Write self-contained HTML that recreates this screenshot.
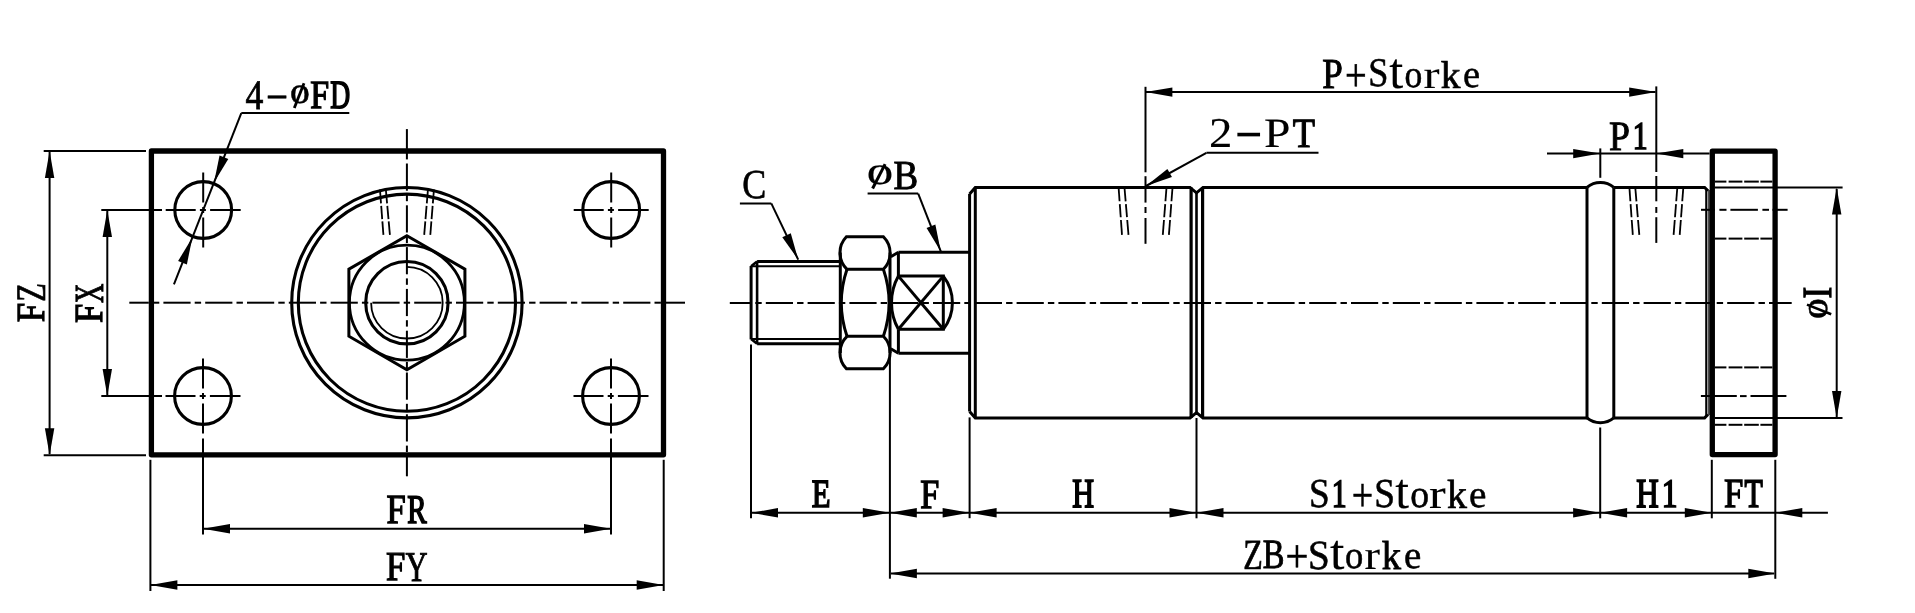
<!DOCTYPE html>
<html><head><meta charset="utf-8"><style>
html,body{margin:0;padding:0;background:#fff;overflow:hidden}
svg{display:block}
text{font-family:"Liberation Serif",serif;fill:#000;stroke:#000;stroke-linejoin:miter;text-rendering:geometricPrecision}
svg{filter:grayscale(1)}
</style></head><body>
<svg width="1915" height="613" viewBox="0 0 1915 613" stroke="#000" stroke-linecap="butt" stroke-linejoin="miter">
<rect x="0" y="0" width="1915" height="613" fill="#fff" stroke="none"/>
<rect x="151.4" y="151" width="512.1" height="303.8" fill="none" stroke-width="5.3" stroke-linejoin="round"/>
<line x1="129.30" y1="302.70" x2="148.80" y2="302.70" stroke-width="2.0"/>
<line x1="152.90" y1="302.70" x2="159.30" y2="302.70" stroke-width="2.0"/>
<line x1="163.40" y1="302.70" x2="190.60" y2="302.70" stroke-width="2.0"/>
<line x1="194.70" y1="302.70" x2="201.10" y2="302.70" stroke-width="2.0"/>
<line x1="205.20" y1="302.70" x2="232.40" y2="302.70" stroke-width="2.0"/>
<line x1="236.50" y1="302.70" x2="242.90" y2="302.70" stroke-width="2.0"/>
<line x1="247.00" y1="302.70" x2="274.20" y2="302.70" stroke-width="2.0"/>
<line x1="278.30" y1="302.70" x2="284.70" y2="302.70" stroke-width="2.0"/>
<line x1="288.80" y1="302.70" x2="316.00" y2="302.70" stroke-width="2.0"/>
<line x1="320.10" y1="302.70" x2="326.50" y2="302.70" stroke-width="2.0"/>
<line x1="330.60" y1="302.70" x2="357.80" y2="302.70" stroke-width="2.0"/>
<line x1="361.90" y1="302.70" x2="368.30" y2="302.70" stroke-width="2.0"/>
<line x1="372.40" y1="302.70" x2="399.60" y2="302.70" stroke-width="2.0"/>
<line x1="403.70" y1="302.70" x2="410.10" y2="302.70" stroke-width="2.0"/>
<line x1="414.20" y1="302.70" x2="441.40" y2="302.70" stroke-width="2.0"/>
<line x1="445.50" y1="302.70" x2="451.90" y2="302.70" stroke-width="2.0"/>
<line x1="456.00" y1="302.70" x2="483.20" y2="302.70" stroke-width="2.0"/>
<line x1="487.30" y1="302.70" x2="493.70" y2="302.70" stroke-width="2.0"/>
<line x1="497.80" y1="302.70" x2="525.00" y2="302.70" stroke-width="2.0"/>
<line x1="529.10" y1="302.70" x2="535.50" y2="302.70" stroke-width="2.0"/>
<line x1="539.60" y1="302.70" x2="566.80" y2="302.70" stroke-width="2.0"/>
<line x1="570.90" y1="302.70" x2="577.30" y2="302.70" stroke-width="2.0"/>
<line x1="581.40" y1="302.70" x2="608.60" y2="302.70" stroke-width="2.0"/>
<line x1="612.70" y1="302.70" x2="619.10" y2="302.70" stroke-width="2.0"/>
<line x1="623.20" y1="302.70" x2="650.40" y2="302.70" stroke-width="2.0"/>
<line x1="654.50" y1="302.70" x2="660.90" y2="302.70" stroke-width="2.0"/>
<line x1="665.00" y1="302.70" x2="685.00" y2="302.70" stroke-width="2.0"/>
<line x1="406.90" y1="129.10" x2="406.90" y2="148.90" stroke-width="2.0"/>
<line x1="406.90" y1="153.00" x2="406.90" y2="159.40" stroke-width="2.0"/>
<line x1="406.90" y1="163.50" x2="406.90" y2="190.70" stroke-width="2.0"/>
<line x1="406.90" y1="194.80" x2="406.90" y2="201.20" stroke-width="2.0"/>
<line x1="406.90" y1="205.30" x2="406.90" y2="232.50" stroke-width="2.0"/>
<line x1="406.90" y1="236.60" x2="406.90" y2="243.00" stroke-width="2.0"/>
<line x1="406.90" y1="247.10" x2="406.90" y2="274.30" stroke-width="2.0"/>
<line x1="406.90" y1="278.40" x2="406.90" y2="284.80" stroke-width="2.0"/>
<line x1="406.90" y1="288.90" x2="406.90" y2="316.10" stroke-width="2.0"/>
<line x1="406.90" y1="320.20" x2="406.90" y2="326.60" stroke-width="2.0"/>
<line x1="406.90" y1="330.70" x2="406.90" y2="357.90" stroke-width="2.0"/>
<line x1="406.90" y1="362.00" x2="406.90" y2="368.40" stroke-width="2.0"/>
<line x1="406.90" y1="372.50" x2="406.90" y2="399.70" stroke-width="2.0"/>
<line x1="406.90" y1="403.80" x2="406.90" y2="410.20" stroke-width="2.0"/>
<line x1="406.90" y1="414.30" x2="406.90" y2="441.50" stroke-width="2.0"/>
<line x1="406.90" y1="445.60" x2="406.90" y2="452.00" stroke-width="2.0"/>
<line x1="406.90" y1="456.10" x2="406.90" y2="476.30" stroke-width="2.0"/>
<circle cx="203.20" cy="210.00" r="28.40" fill="none" stroke-width="3.1"/>
<line x1="165.70" y1="210.00" x2="195.70" y2="210.00" stroke-width="2.0"/>
<line x1="199.90" y1="210.00" x2="205.90" y2="210.00" stroke-width="2.0"/>
<line x1="210.10" y1="210.00" x2="240.70" y2="210.00" stroke-width="2.0"/>
<line x1="203.20" y1="172.50" x2="203.20" y2="202.50" stroke-width="2.0"/>
<line x1="203.20" y1="207.00" x2="203.20" y2="213.00" stroke-width="2.0"/>
<line x1="203.20" y1="217.50" x2="203.20" y2="247.50" stroke-width="2.0"/>
<circle cx="611.20" cy="210.00" r="28.40" fill="none" stroke-width="3.1"/>
<line x1="573.70" y1="210.00" x2="603.70" y2="210.00" stroke-width="2.0"/>
<line x1="607.90" y1="210.00" x2="613.90" y2="210.00" stroke-width="2.0"/>
<line x1="618.10" y1="210.00" x2="648.70" y2="210.00" stroke-width="2.0"/>
<line x1="611.20" y1="172.50" x2="611.20" y2="202.50" stroke-width="2.0"/>
<line x1="611.20" y1="207.00" x2="611.20" y2="213.00" stroke-width="2.0"/>
<line x1="611.20" y1="217.50" x2="611.20" y2="247.50" stroke-width="2.0"/>
<circle cx="203.00" cy="396.00" r="28.40" fill="none" stroke-width="3.1"/>
<line x1="165.50" y1="396.00" x2="195.50" y2="396.00" stroke-width="2.0"/>
<line x1="199.70" y1="396.00" x2="205.70" y2="396.00" stroke-width="2.0"/>
<line x1="209.90" y1="396.00" x2="240.50" y2="396.00" stroke-width="2.0"/>
<line x1="203.00" y1="358.50" x2="203.00" y2="388.50" stroke-width="2.0"/>
<line x1="203.00" y1="393.00" x2="203.00" y2="399.00" stroke-width="2.0"/>
<line x1="203.00" y1="403.50" x2="203.00" y2="433.50" stroke-width="2.0"/>
<circle cx="611.00" cy="396.00" r="28.40" fill="none" stroke-width="3.1"/>
<line x1="573.50" y1="396.00" x2="603.50" y2="396.00" stroke-width="2.0"/>
<line x1="607.70" y1="396.00" x2="613.70" y2="396.00" stroke-width="2.0"/>
<line x1="617.90" y1="396.00" x2="648.50" y2="396.00" stroke-width="2.0"/>
<line x1="611.00" y1="358.50" x2="611.00" y2="388.50" stroke-width="2.0"/>
<line x1="611.00" y1="393.00" x2="611.00" y2="399.00" stroke-width="2.0"/>
<line x1="611.00" y1="403.50" x2="611.00" y2="433.50" stroke-width="2.0"/>
<line x1="101.30" y1="210.00" x2="162.00" y2="210.00" stroke-width="2.0"/>
<line x1="101.30" y1="396.00" x2="162.00" y2="396.00" stroke-width="2.0"/>
<line x1="203.00" y1="438.50" x2="203.00" y2="534.50" stroke-width="2.0"/>
<line x1="611.00" y1="438.50" x2="611.00" y2="534.50" stroke-width="2.0"/>
<line x1="150.40" y1="459.80" x2="150.40" y2="591.00" stroke-width="2.0"/>
<line x1="663.70" y1="459.80" x2="663.70" y2="591.00" stroke-width="2.0"/>
<line x1="43.70" y1="150.90" x2="146.00" y2="150.90" stroke-width="2.0"/>
<line x1="43.70" y1="455.20" x2="146.00" y2="455.20" stroke-width="2.0"/>
<line x1="49.60" y1="152.00" x2="49.60" y2="454.00" stroke-width="2.0"/>
<polygon points="49.60,150.90 54.30,177.90 44.90,177.90" fill="#000" stroke="none"/>
<polygon points="49.60,455.20 44.90,428.20 54.30,428.20" fill="#000" stroke="none"/>
<line x1="107.30" y1="211.00" x2="107.30" y2="395.00" stroke-width="2.0"/>
<polygon points="107.30,210.00 112.00,237.00 102.60,237.00" fill="#000" stroke="none"/>
<polygon points="107.30,396.00 102.60,369.00 112.00,369.00" fill="#000" stroke="none"/>
<line x1="204.00" y1="528.80" x2="610.00" y2="528.80" stroke-width="2.0"/>
<polygon points="203.00,528.80 230.00,524.10 230.00,533.50" fill="#000" stroke="none"/>
<polygon points="611.00,528.80 584.00,533.50 584.00,524.10" fill="#000" stroke="none"/>
<line x1="151.00" y1="585.00" x2="663.00" y2="585.00" stroke-width="2.0"/>
<polygon points="150.40,585.00 177.40,580.30 177.40,589.70" fill="#000" stroke="none"/>
<polygon points="663.70,585.00 636.70,589.70 636.70,580.30" fill="#000" stroke="none"/>
<circle cx="406.90" cy="302.70" r="115.20" fill="none" stroke-width="3.1"/>
<circle cx="406.90" cy="302.70" r="108.60" fill="none" stroke-width="3.1"/>
<polygon points="406.90,235.70 464.92,269.20 464.92,336.20 406.90,369.70 348.88,336.20 348.88,269.20" fill="none" stroke-width="3.0"/>
<circle cx="406.90" cy="302.70" r="57.50" fill="none" stroke-width="2.8"/>
<circle cx="406.90" cy="302.70" r="41.20" fill="none" stroke-width="3.1"/>
<path d="M406.9,266.90 A35.8,35.8 0 1 1 371.10,302.70" fill="none" stroke-width="1.8"/>
<line x1="379.96" y1="189.50" x2="381.02" y2="203.40" stroke-width="1.8"/>
<line x1="381.21" y1="205.90" x2="382.20" y2="219.10" stroke-width="1.8"/>
<line x1="382.38" y1="221.40" x2="383.40" y2="234.90" stroke-width="1.8"/>
<line x1="385.84" y1="189.50" x2="387.08" y2="203.40" stroke-width="1.8"/>
<line x1="387.31" y1="205.90" x2="388.49" y2="219.10" stroke-width="1.8"/>
<line x1="388.69" y1="221.40" x2="389.90" y2="234.90" stroke-width="1.8"/>
<line x1="427.95" y1="189.50" x2="426.80" y2="203.40" stroke-width="1.8"/>
<line x1="426.59" y1="205.90" x2="425.50" y2="219.10" stroke-width="1.8"/>
<line x1="425.31" y1="221.40" x2="424.20" y2="234.90" stroke-width="1.8"/>
<line x1="433.94" y1="189.50" x2="432.83" y2="203.40" stroke-width="1.8"/>
<line x1="432.63" y1="205.90" x2="431.57" y2="219.10" stroke-width="1.8"/>
<line x1="431.38" y1="221.40" x2="430.30" y2="234.90" stroke-width="1.8"/>
<line x1="241.30" y1="113.10" x2="349.30" y2="113.10" stroke-width="2.0"/>
<line x1="241.30" y1="113.10" x2="173.93" y2="284.45" stroke-width="2.0"/>
<polygon points="214.03,182.45 219.54,155.61 228.29,159.05" fill="#000" stroke="none"/>
<polygon points="192.37,237.55 186.86,264.39 178.11,260.95" fill="#000" stroke="none"/>
<line x1="729.80" y1="303.00" x2="751.20" y2="303.00" stroke-width="2.0"/>
<line x1="755.30" y1="303.00" x2="761.70" y2="303.00" stroke-width="2.0"/>
<line x1="765.80" y1="303.00" x2="793.00" y2="303.00" stroke-width="2.0"/>
<line x1="797.10" y1="303.00" x2="803.50" y2="303.00" stroke-width="2.0"/>
<line x1="807.60" y1="303.00" x2="834.80" y2="303.00" stroke-width="2.0"/>
<line x1="838.90" y1="303.00" x2="845.30" y2="303.00" stroke-width="2.0"/>
<line x1="849.40" y1="303.00" x2="876.60" y2="303.00" stroke-width="2.0"/>
<line x1="880.70" y1="303.00" x2="887.10" y2="303.00" stroke-width="2.0"/>
<line x1="891.20" y1="303.00" x2="918.40" y2="303.00" stroke-width="2.0"/>
<line x1="922.50" y1="303.00" x2="928.90" y2="303.00" stroke-width="2.0"/>
<line x1="933.00" y1="303.00" x2="960.20" y2="303.00" stroke-width="2.0"/>
<line x1="964.30" y1="303.00" x2="970.70" y2="303.00" stroke-width="2.0"/>
<line x1="974.80" y1="303.00" x2="1002.00" y2="303.00" stroke-width="2.0"/>
<line x1="1006.10" y1="303.00" x2="1012.50" y2="303.00" stroke-width="2.0"/>
<line x1="1016.60" y1="303.00" x2="1043.80" y2="303.00" stroke-width="2.0"/>
<line x1="1047.90" y1="303.00" x2="1054.30" y2="303.00" stroke-width="2.0"/>
<line x1="1058.40" y1="303.00" x2="1085.60" y2="303.00" stroke-width="2.0"/>
<line x1="1089.70" y1="303.00" x2="1096.10" y2="303.00" stroke-width="2.0"/>
<line x1="1100.20" y1="303.00" x2="1127.40" y2="303.00" stroke-width="2.0"/>
<line x1="1131.50" y1="303.00" x2="1137.90" y2="303.00" stroke-width="2.0"/>
<line x1="1142.00" y1="303.00" x2="1169.20" y2="303.00" stroke-width="2.0"/>
<line x1="1173.30" y1="303.00" x2="1179.70" y2="303.00" stroke-width="2.0"/>
<line x1="1183.80" y1="303.00" x2="1211.00" y2="303.00" stroke-width="2.0"/>
<line x1="1215.10" y1="303.00" x2="1221.50" y2="303.00" stroke-width="2.0"/>
<line x1="1225.60" y1="303.00" x2="1252.80" y2="303.00" stroke-width="2.0"/>
<line x1="1256.90" y1="303.00" x2="1263.30" y2="303.00" stroke-width="2.0"/>
<line x1="1267.40" y1="303.00" x2="1294.60" y2="303.00" stroke-width="2.0"/>
<line x1="1298.70" y1="303.00" x2="1305.10" y2="303.00" stroke-width="2.0"/>
<line x1="1309.20" y1="303.00" x2="1336.40" y2="303.00" stroke-width="2.0"/>
<line x1="1340.50" y1="303.00" x2="1346.90" y2="303.00" stroke-width="2.0"/>
<line x1="1351.00" y1="303.00" x2="1378.20" y2="303.00" stroke-width="2.0"/>
<line x1="1382.30" y1="303.00" x2="1388.70" y2="303.00" stroke-width="2.0"/>
<line x1="1392.80" y1="303.00" x2="1420.00" y2="303.00" stroke-width="2.0"/>
<line x1="1424.10" y1="303.00" x2="1430.50" y2="303.00" stroke-width="2.0"/>
<line x1="1434.60" y1="303.00" x2="1461.80" y2="303.00" stroke-width="2.0"/>
<line x1="1465.90" y1="303.00" x2="1472.30" y2="303.00" stroke-width="2.0"/>
<line x1="1476.40" y1="303.00" x2="1503.60" y2="303.00" stroke-width="2.0"/>
<line x1="1507.70" y1="303.00" x2="1514.10" y2="303.00" stroke-width="2.0"/>
<line x1="1518.20" y1="303.00" x2="1545.40" y2="303.00" stroke-width="2.0"/>
<line x1="1549.50" y1="303.00" x2="1555.90" y2="303.00" stroke-width="2.0"/>
<line x1="1560.00" y1="303.00" x2="1587.20" y2="303.00" stroke-width="2.0"/>
<line x1="1591.30" y1="303.00" x2="1597.70" y2="303.00" stroke-width="2.0"/>
<line x1="1601.80" y1="303.00" x2="1629.00" y2="303.00" stroke-width="2.0"/>
<line x1="1633.10" y1="303.00" x2="1639.50" y2="303.00" stroke-width="2.0"/>
<line x1="1643.60" y1="303.00" x2="1670.80" y2="303.00" stroke-width="2.0"/>
<line x1="1674.90" y1="303.00" x2="1681.30" y2="303.00" stroke-width="2.0"/>
<line x1="1685.40" y1="303.00" x2="1712.60" y2="303.00" stroke-width="2.0"/>
<line x1="1716.70" y1="303.00" x2="1723.10" y2="303.00" stroke-width="2.0"/>
<line x1="1727.20" y1="303.00" x2="1754.40" y2="303.00" stroke-width="2.0"/>
<line x1="1758.50" y1="303.00" x2="1764.90" y2="303.00" stroke-width="2.0"/>
<line x1="1769.00" y1="303.00" x2="1791.70" y2="303.00" stroke-width="2.0"/>
<line x1="757.10" y1="261.60" x2="840.00" y2="261.60" stroke-width="3.0"/>
<line x1="757.10" y1="343.80" x2="840.00" y2="343.80" stroke-width="3.0"/>
<line x1="751.10" y1="266.30" x2="840.00" y2="266.30" stroke-width="2.0"/>
<line x1="751.10" y1="339.10" x2="840.00" y2="339.10" stroke-width="2.0"/>
<line x1="751.10" y1="266.00" x2="751.10" y2="339.40" stroke-width="3.0"/>
<line x1="757.10" y1="261.60" x2="757.10" y2="343.80" stroke-width="2.6"/>
<line x1="751.10" y1="266.30" x2="757.10" y2="261.60" stroke-width="2.6"/>
<line x1="751.10" y1="339.10" x2="757.10" y2="343.80" stroke-width="2.6"/>
<path d="M846.4,236.8 L883.4,236.8 A23,23 0 0 1 883.4,269.3 L847,269.3 A23,23 0 0 1 846.4,236.8 Z" fill="none" stroke-width="3.0"/>
<path d="M846.4,368.8 L883.4,368.8 A23,23 0 0 0 883.4,336.3 L847,336.3 A23,23 0 0 0 846.4,368.8 Z" fill="none" stroke-width="3.0"/>
<path d="M847,269.3 A104,104 0 0 0 847,336.3" fill="none" stroke-width="3.0"/>
<path d="M883.4,269.3 A104,104 0 0 1 883.4,336.3" fill="none" stroke-width="3.0"/>
<line x1="840.30" y1="252.50" x2="840.30" y2="353.00" stroke-width="3.0"/>
<line x1="890.00" y1="252.50" x2="890.00" y2="353.00" stroke-width="3.0"/>
<line x1="898.40" y1="252.20" x2="969.60" y2="252.20" stroke-width="3.0"/>
<line x1="898.40" y1="353.20" x2="969.60" y2="353.20" stroke-width="3.0"/>
<line x1="890.80" y1="256.70" x2="898.40" y2="252.20" stroke-width="3.0"/>
<line x1="890.80" y1="348.70" x2="898.40" y2="353.20" stroke-width="3.0"/>
<line x1="898.40" y1="252.20" x2="898.40" y2="276.10" stroke-width="3.0"/>
<line x1="898.40" y1="329.30" x2="898.40" y2="353.20" stroke-width="3.0"/>
<polyline points="898.40,276.10 943.30,276.10 943.30,329.30 898.40,329.30" fill="none" stroke-width="3.0"/>
<line x1="898.40" y1="276.10" x2="943.30" y2="329.30" stroke-width="3.0"/>
<line x1="898.40" y1="329.30" x2="943.30" y2="276.10" stroke-width="3.0"/>
<path d="M943.3,276.1 A43.4,43.4 0 0 1 943.3,329.3" fill="none" stroke-width="3.0"/>
<path d="M898.4,276.1 A54.7,54.7 0 0 0 898.4,329.3" fill="none" stroke-width="3.0"/>
<polyline points="969.60,193.90 969.60,411.50" fill="none" stroke-width="3.0"/>
<polyline points="969.60,193.90 975.30,187.40 1190.00,187.40 1196.50,192.80 1203.00,187.40 1587.00,187.40" fill="none" stroke-width="3.0"/>
<polyline points="969.60,411.50 975.30,417.90 1190.00,417.90 1196.50,412.60 1203.00,417.90 1587.00,417.90" fill="none" stroke-width="3.0"/>
<line x1="975.30" y1="187.40" x2="975.30" y2="417.90" stroke-width="3.0"/>
<line x1="1191.10" y1="187.40" x2="1191.10" y2="417.90" stroke-width="3.2"/>
<line x1="1202.60" y1="187.40" x2="1202.60" y2="417.90" stroke-width="3.2"/>
<line x1="1196.50" y1="192.80" x2="1196.50" y2="412.60" stroke-width="2.6"/>
<line x1="1587.00" y1="187.40" x2="1587.00" y2="417.90" stroke-width="3.0"/>
<line x1="1613.80" y1="187.40" x2="1613.80" y2="417.90" stroke-width="3.0"/>
<path d="M1587,187.4 A21,21 0 0 1 1613.8,187.4" fill="none" stroke-width="3.0"/>
<path d="M1587,417.9 A21,21 0 0 0 1613.8,417.9" fill="none" stroke-width="3.0"/>
<polyline points="1613.80,187.40 1704.60,187.40 1708.00,190.80" fill="none" stroke-width="3.0"/>
<polyline points="1613.80,417.90 1704.60,417.90 1708.00,414.50" fill="none" stroke-width="3.0"/>
<line x1="1706.30" y1="189.50" x2="1706.30" y2="416.00" stroke-width="2.2"/>
<line x1="1709.00" y1="190.00" x2="1709.00" y2="415.00" stroke-width="1.4"/>
<line x1="1118.70" y1="189.00" x2="1119.58" y2="201.30" stroke-width="1.8"/>
<line x1="1119.79" y1="204.10" x2="1120.73" y2="217.20" stroke-width="1.8"/>
<line x1="1120.93" y1="220.00" x2="1122.00" y2="234.90" stroke-width="1.8"/>
<line x1="1124.60" y1="189.00" x2="1125.65" y2="201.30" stroke-width="1.8"/>
<line x1="1125.88" y1="204.10" x2="1127.00" y2="217.20" stroke-width="1.8"/>
<line x1="1127.23" y1="220.00" x2="1128.50" y2="234.90" stroke-width="1.8"/>
<line x1="1166.40" y1="189.00" x2="1165.44" y2="201.30" stroke-width="1.8"/>
<line x1="1165.22" y1="204.10" x2="1164.19" y2="217.20" stroke-width="1.8"/>
<line x1="1163.97" y1="220.00" x2="1162.80" y2="234.90" stroke-width="1.8"/>
<line x1="1172.40" y1="189.00" x2="1171.46" y2="201.30" stroke-width="1.8"/>
<line x1="1171.25" y1="204.10" x2="1170.25" y2="217.20" stroke-width="1.8"/>
<line x1="1170.04" y1="220.00" x2="1168.90" y2="234.90" stroke-width="1.8"/>
<line x1="1629.50" y1="189.00" x2="1630.38" y2="201.30" stroke-width="1.8"/>
<line x1="1630.59" y1="204.10" x2="1631.53" y2="217.20" stroke-width="1.8"/>
<line x1="1631.73" y1="220.00" x2="1632.80" y2="234.90" stroke-width="1.8"/>
<line x1="1635.40" y1="189.00" x2="1636.45" y2="201.30" stroke-width="1.8"/>
<line x1="1636.68" y1="204.10" x2="1637.80" y2="217.20" stroke-width="1.8"/>
<line x1="1638.03" y1="220.00" x2="1639.30" y2="234.90" stroke-width="1.8"/>
<line x1="1677.20" y1="189.00" x2="1676.24" y2="201.30" stroke-width="1.8"/>
<line x1="1676.02" y1="204.10" x2="1674.99" y2="217.20" stroke-width="1.8"/>
<line x1="1674.77" y1="220.00" x2="1673.60" y2="234.90" stroke-width="1.8"/>
<line x1="1683.20" y1="189.00" x2="1682.26" y2="201.30" stroke-width="1.8"/>
<line x1="1682.05" y1="204.10" x2="1681.05" y2="217.20" stroke-width="1.8"/>
<line x1="1680.84" y1="220.00" x2="1679.70" y2="234.90" stroke-width="1.8"/>
<rect x="1712.3" y="151.1" width="62.8" height="303.5" fill="none" stroke-width="5.3" stroke-linejoin="round"/>
<line x1="1715.00" y1="181.60" x2="1726.40" y2="181.60" stroke-width="2.0"/>
<line x1="1728.60" y1="181.60" x2="1742.40" y2="181.60" stroke-width="2.0"/>
<line x1="1744.20" y1="181.60" x2="1758.80" y2="181.60" stroke-width="2.0"/>
<line x1="1760.40" y1="181.60" x2="1772.40" y2="181.60" stroke-width="2.0"/>
<line x1="1715.00" y1="238.60" x2="1726.40" y2="238.60" stroke-width="2.0"/>
<line x1="1728.60" y1="238.60" x2="1742.40" y2="238.60" stroke-width="2.0"/>
<line x1="1744.20" y1="238.60" x2="1758.80" y2="238.60" stroke-width="2.0"/>
<line x1="1760.40" y1="238.60" x2="1772.40" y2="238.60" stroke-width="2.0"/>
<line x1="1715.00" y1="367.40" x2="1726.40" y2="367.40" stroke-width="2.0"/>
<line x1="1728.60" y1="367.40" x2="1742.40" y2="367.40" stroke-width="2.0"/>
<line x1="1744.20" y1="367.40" x2="1758.80" y2="367.40" stroke-width="2.0"/>
<line x1="1760.40" y1="367.40" x2="1772.40" y2="367.40" stroke-width="2.0"/>
<line x1="1715.00" y1="424.80" x2="1726.40" y2="424.80" stroke-width="2.0"/>
<line x1="1728.60" y1="424.80" x2="1742.40" y2="424.80" stroke-width="2.0"/>
<line x1="1744.20" y1="424.80" x2="1758.80" y2="424.80" stroke-width="2.0"/>
<line x1="1760.40" y1="424.80" x2="1772.40" y2="424.80" stroke-width="2.0"/>
<line x1="1701.00" y1="209.80" x2="1714.80" y2="209.80" stroke-width="2.0"/>
<line x1="1719.40" y1="209.80" x2="1726.50" y2="209.80" stroke-width="2.0"/>
<line x1="1730.40" y1="209.80" x2="1757.90" y2="209.80" stroke-width="2.0"/>
<line x1="1762.40" y1="209.80" x2="1769.00" y2="209.80" stroke-width="2.0"/>
<line x1="1772.50" y1="209.80" x2="1787.60" y2="209.80" stroke-width="2.0"/>
<line x1="1700.90" y1="396.10" x2="1736.80" y2="396.10" stroke-width="2.0"/>
<line x1="1740.00" y1="396.10" x2="1746.60" y2="396.10" stroke-width="2.0"/>
<line x1="1750.50" y1="396.10" x2="1786.40" y2="396.10" stroke-width="2.0"/>
<line x1="1714.80" y1="187.60" x2="1842.60" y2="187.60" stroke-width="2.0"/>
<line x1="1714.80" y1="418.00" x2="1842.50" y2="418.00" stroke-width="2.0"/>
<line x1="1836.70" y1="189.00" x2="1836.70" y2="417.00" stroke-width="2.0"/>
<polygon points="1836.70,187.60 1841.40,214.60 1832.00,214.60" fill="#000" stroke="none"/>
<polygon points="1836.70,418.00 1832.00,391.00 1841.40,391.00" fill="#000" stroke="none"/>
<line x1="751.00" y1="512.80" x2="1827.90" y2="512.80" stroke-width="2.0"/>
<polygon points="751.00,512.80 778.00,508.10 778.00,517.50" fill="#000" stroke="none"/>
<polygon points="889.80,512.80 862.80,517.50 862.80,508.10" fill="#000" stroke="none"/>
<polygon points="889.80,512.80 916.80,508.10 916.80,517.50" fill="#000" stroke="none"/>
<polygon points="969.60,512.80 942.60,517.50 942.60,508.10" fill="#000" stroke="none"/>
<polygon points="969.60,512.80 996.60,508.10 996.60,517.50" fill="#000" stroke="none"/>
<polygon points="1196.50,512.80 1169.50,517.50 1169.50,508.10" fill="#000" stroke="none"/>
<polygon points="1196.50,512.80 1223.50,508.10 1223.50,517.50" fill="#000" stroke="none"/>
<polygon points="1600.10,512.80 1573.10,517.50 1573.10,508.10" fill="#000" stroke="none"/>
<polygon points="1600.10,512.80 1627.10,508.10 1627.10,517.50" fill="#000" stroke="none"/>
<polygon points="1711.80,512.80 1684.80,517.50 1684.80,508.10" fill="#000" stroke="none"/>
<polygon points="1775.30,512.80 1802.30,508.10 1802.30,517.50" fill="#000" stroke="none"/>
<line x1="751.00" y1="344.50" x2="751.00" y2="518.20" stroke-width="2.0"/>
<line x1="889.90" y1="353.00" x2="889.90" y2="578.70" stroke-width="2.0"/>
<line x1="969.60" y1="417.40" x2="969.60" y2="518.20" stroke-width="2.0"/>
<line x1="1196.50" y1="418.00" x2="1196.50" y2="518.30" stroke-width="2.0"/>
<line x1="1600.20" y1="427.50" x2="1600.20" y2="518.30" stroke-width="2.0"/>
<line x1="1711.80" y1="459.80" x2="1711.80" y2="518.30" stroke-width="2.0"/>
<line x1="1775.30" y1="459.80" x2="1775.30" y2="578.80" stroke-width="2.0"/>
<line x1="891.00" y1="573.50" x2="1774.00" y2="573.50" stroke-width="2.0"/>
<polygon points="889.90,573.50 916.90,568.80 916.90,578.20" fill="#000" stroke="none"/>
<polygon points="1775.30,573.50 1748.30,578.20 1748.30,568.80" fill="#000" stroke="none"/>
<line x1="1146.00" y1="92.10" x2="1655.50" y2="92.10" stroke-width="2.0"/>
<polygon points="1145.40,92.10 1172.40,87.40 1172.40,96.80" fill="#000" stroke="none"/>
<polygon points="1656.20,92.10 1629.20,96.80 1629.20,87.40" fill="#000" stroke="none"/>
<line x1="1145.50" y1="86.80" x2="1145.50" y2="172.30" stroke-width="2.0"/>
<line x1="1145.50" y1="176.20" x2="1145.50" y2="202.60" stroke-width="2.0"/>
<line x1="1145.50" y1="207.00" x2="1145.50" y2="213.00" stroke-width="2.0"/>
<line x1="1145.50" y1="218.00" x2="1145.50" y2="243.80" stroke-width="2.0"/>
<line x1="1656.30" y1="86.40" x2="1656.30" y2="172.00" stroke-width="2.0"/>
<line x1="1656.30" y1="176.00" x2="1656.30" y2="201.30" stroke-width="2.0"/>
<line x1="1656.30" y1="207.00" x2="1656.30" y2="212.90" stroke-width="2.0"/>
<line x1="1656.30" y1="217.20" x2="1656.30" y2="242.90" stroke-width="2.0"/>
<line x1="1547.00" y1="153.60" x2="1709.60" y2="153.60" stroke-width="2.0"/>
<polygon points="1600.20,153.60 1573.20,158.30 1573.20,148.90" fill="#000" stroke="none"/>
<polygon points="1656.30,153.60 1683.30,148.90 1683.30,158.30" fill="#000" stroke="none"/>
<line x1="1600.30" y1="148.40" x2="1600.30" y2="177.80" stroke-width="2.0"/>
<line x1="1206.40" y1="152.80" x2="1318.50" y2="152.80" stroke-width="2.0"/>
<line x1="1206.40" y1="152.80" x2="1146.00" y2="186.00" stroke-width="2.0"/>
<polygon points="1146.00,186.00 1167.40,168.88 1171.93,177.11" fill="#000" stroke="none"/>
<line x1="739.90" y1="203.40" x2="771.30" y2="203.40" stroke-width="2.0"/>
<line x1="771.30" y1="203.40" x2="798.20" y2="259.60" stroke-width="2.0"/>
<polygon points="798.20,259.60 782.30,237.28 790.78,233.22" fill="#000" stroke="none"/>
<line x1="867.60" y1="193.60" x2="918.20" y2="193.60" stroke-width="2.0"/>
<line x1="918.20" y1="193.60" x2="940.80" y2="251.40" stroke-width="2.0"/>
<polygon points="940.80,251.40 926.59,227.97 935.35,224.54" fill="#000" stroke="none"/>
<line x1="304.00" y1="83.30" x2="294.30" y2="107.90" stroke-width="2.8"/>
<line x1="885.10" y1="164.10" x2="872.60" y2="188.50" stroke-width="3.0"/>
<line x1="1807.00" y1="304.60" x2="1831.20" y2="314.20" stroke-width="2.6"/>
<text transform="matrix(0.8499,0,0,0.9979,245.43,108.89)" font-size="42.0" stroke-width="0.80">4</text>
<text transform="matrix(0.9303,0,0,1.1518,265.96,112.81)" font-size="42.0" stroke-width="0.50">−</text>
<text transform="matrix(0.9444,0,0,0.8824,290.01,103.37)" font-size="42.0" stroke-width="0.60">o</text>
<text transform="matrix(0.8077,0,0,0.9489,310.21,107.81)" font-size="42.0" stroke-width="1.45">F</text>
<text transform="matrix(0.6572,0,0,0.9489,330.15,107.81)" font-size="42.0" stroke-width="1.80">D</text>
<text transform="matrix(0.8242,0,0,0.9821,386.48,523.32)" font-size="42.0" stroke-width="1.35">F</text>
<text transform="matrix(0.6921,0,0,0.9646,407.23,523.33)" font-size="42.0" stroke-width="1.80">R</text>
<text transform="matrix(0.8292,0,0,0.9762,386.01,579.79)" font-size="42.0" stroke-width="1.32">F</text>
<text transform="matrix(0.7279,0,0,1.0112,405.57,580.77)" font-size="42.0" stroke-width="1.00">Y</text>
<text transform="matrix(0.8575,0,0,0.9806,742.35,197.69)" font-size="42.0" stroke-width="0.60">C</text>
<text transform="matrix(1.2831,0,0,0.9454,866.50,184.26)" font-size="42.0" stroke-width="0.10">o</text>
<text transform="matrix(0.8796,0,0,0.9833,893.45,188.55)" font-size="42.0" stroke-width="1.00">B</text>
<text transform="matrix(0.8798,0,0,1.0186,1322.17,87.67)" font-size="42.0" stroke-width="1.05">P</text>
<text transform="matrix(0.9168,0,0,1.1273,1344.98,91.22)" font-size="42.0" stroke-width="0.50">+</text>
<text transform="matrix(0.8619,0,0,0.9690,1368.29,86.49)" font-size="42.0" stroke-width="0.60">S</text>
<text transform="matrix(1.1962,0,0,1.2020,1389.27,87.75)" font-size="42.0" stroke-width="0.10">t</text>
<text transform="matrix(0.8481,0,0,0.9090,1404.47,86.66)" font-size="42.0" stroke-width="0.60">o</text>
<text transform="matrix(1.1478,0,0,0.9476,1423.59,87.74)" font-size="42.0" stroke-width="0.10">r</text>
<text transform="matrix(0.9351,0,0,0.9243,1440.77,87.76)" font-size="42.0" stroke-width="0.78">k</text>
<text transform="matrix(0.9161,0,0,0.9183,1463.04,86.85)" font-size="42.0" stroke-width="0.60">e</text>
<text transform="matrix(1.1141,0,0,1.0107,1208.90,147.45)" font-size="42.0" stroke-width="0.10">2</text>
<text transform="matrix(1.1549,0,0,1.6161,1234.99,157.13)" font-size="42.0" stroke-width="0.10">−</text>
<text transform="matrix(1.1318,0,0,0.9989,1264.12,147.46)" font-size="42.0" stroke-width="0.10">P</text>
<text transform="matrix(0.8658,0,0,0.9884,1292.82,147.47)" font-size="42.0" stroke-width="1.12">T</text>
<text transform="matrix(0.8978,0,0,0.9912,1609.04,149.80)" font-size="42.0" stroke-width="0.96">P</text>
<text transform="matrix(0.7080,0,0,0.9353,1632.80,148.63)" font-size="42.0" stroke-width="1.80">1</text>
<text transform="matrix(0.7309,0,0,0.9489,811.68,507.09)" font-size="42.0" stroke-width="1.80">E</text>
<text transform="matrix(0.8141,0,0,0.9821,920.24,507.52)" font-size="42.0" stroke-width="1.41">F</text>
<text transform="matrix(0.7188,0,0,0.9750,1072.33,507.33)" font-size="42.0" stroke-width="1.80">H</text>
<text transform="matrix(0.8864,0,0,0.9782,1309.12,507.45)" font-size="42.0" stroke-width="0.60">S</text>
<text transform="matrix(0.7099,0,0,0.9555,1331.76,507.48)" font-size="42.0" stroke-width="1.80">1</text>
<text transform="matrix(0.9072,0,0,1.1356,1351.67,511.42)" font-size="42.0" stroke-width="0.50">+</text>
<text transform="matrix(0.8880,0,0,0.9816,1374.20,507.25)" font-size="42.0" stroke-width="0.60">S</text>
<text transform="matrix(1.1773,0,0,1.1968,1395.22,508.39)" font-size="42.0" stroke-width="0.10">t</text>
<text transform="matrix(0.8963,0,0,0.9262,1410.23,507.48)" font-size="42.0" stroke-width="0.60">o</text>
<text transform="matrix(1.1933,0,0,0.9894,1429.05,508.36)" font-size="42.0" stroke-width="0.10">r</text>
<text transform="matrix(0.9482,0,0,0.9676,1446.88,508.37)" font-size="42.0" stroke-width="0.72">k</text>
<text transform="matrix(0.9345,0,0,0.9122,1469.10,507.49)" font-size="42.0" stroke-width="0.60">e</text>
<text transform="matrix(0.7398,0,0,0.9750,1636.34,507.44)" font-size="42.0" stroke-width="1.80">H</text>
<text transform="matrix(0.7519,0,0,0.9576,1661.63,507.45)" font-size="42.0" stroke-width="1.80">1</text>
<text transform="matrix(0.8292,0,0,0.9821,1724.12,507.43)" font-size="42.0" stroke-width="1.32">F</text>
<text transform="matrix(0.7104,0,0,0.9646,1744.52,507.44)" font-size="42.0" stroke-width="1.80">T</text>
<text transform="matrix(0.7628,0,0,1.0200,1243.13,569.41)" font-size="42.0" stroke-width="0.70">Z</text>
<text transform="matrix(0.7743,0,0,0.9951,1262.79,568.42)" font-size="42.0" stroke-width="1.00">B</text>
<text transform="matrix(0.9687,0,0,1.1273,1285.47,572.22)" font-size="42.0" stroke-width="0.50">+</text>
<text transform="matrix(0.9304,0,0,0.9840,1307.99,568.62)" font-size="42.0" stroke-width="0.60">S</text>
<text transform="matrix(1.2348,0,0,1.1968,1329.92,569.39)" font-size="42.0" stroke-width="0.10">t</text>
<text transform="matrix(0.8714,0,0,0.9262,1344.97,568.48)" font-size="42.0" stroke-width="0.60">o</text>
<text transform="matrix(1.1102,0,0,0.9798,1364.46,569.36)" font-size="42.0" stroke-width="0.10">r</text>
<text transform="matrix(0.9169,0,0,0.9610,1381.78,569.37)" font-size="42.0" stroke-width="0.86">k</text>
<text transform="matrix(0.9280,0,0,0.9262,1404.11,568.48)" font-size="42.0" stroke-width="0.60">e</text>
<text transform="matrix(0,-0.8333,0.9489,0,44.09,322.20)" font-size="42.0" stroke-width="1.30">F</text>
<text transform="matrix(0,-0.7281,1.0014,0,45.06,301.68)" font-size="42.0" stroke-width="0.70">Z</text>
<text transform="matrix(0,-0.8242,0.9489,0,102.09,322.91)" font-size="42.0" stroke-width="1.35">F</text>
<text transform="matrix(0,-0.6398,0.9839,0,103.07,302.88)" font-size="42.0" stroke-width="1.00">X</text>
<text transform="matrix(0,-0.8391,0.9849,0,1831.32,298.53)" font-size="42.0" stroke-width="1.27">I</text>
<text transform="matrix(0,-0.9921,0.9150,0,1827.44,318.94)" font-size="42.0" stroke-width="0.53">o</text>
</svg></body></html>
